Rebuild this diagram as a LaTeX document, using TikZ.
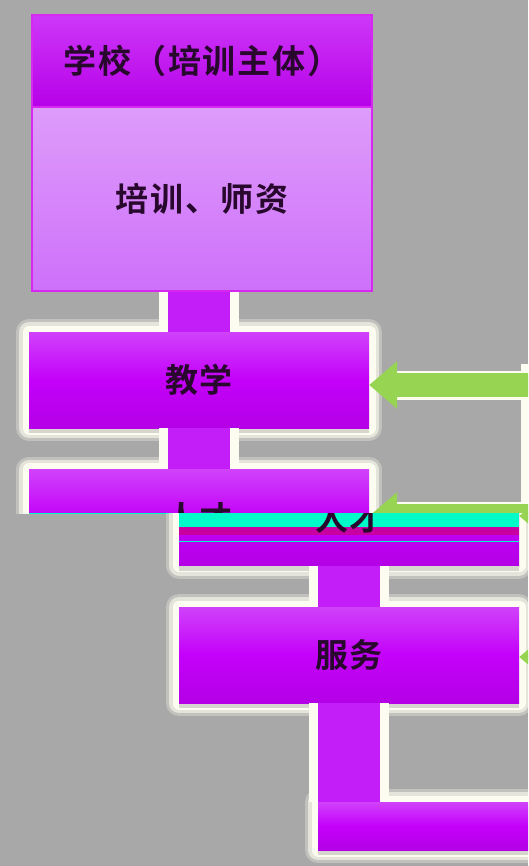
\documentclass[tikz,border=0pt]{standalone}
\usepackage{fontspec}
\usetikzlibrary{arrows.meta,shadows}
\newfontfamily\cjk{Noto Sans CJK SC}[BoldFont={Noto Sans CJK SC Bold}, LetterSpace=6]

\definecolor{bggray}{RGB}{168,168,168}
\definecolor{headtop}{RGB}{206,56,248}
\definecolor{headbot}{RGB}{182,0,232}
\definecolor{pooltop}{RGB}{222,156,250}
\definecolor{poolbot}{RGB}{206,112,250}
\definecolor{rim}{RGB}{214,40,240}
\definecolor{boxtop}{RGB}{208,66,250}
\definecolor{boxmid}{RGB}{196,0,250}
\definecolor{boxbot}{RGB}{180,0,230}
\definecolor{linkcol}{RGB}{196,30,248}
\definecolor{feedgreen}{RGB}{150,212,82}
\definecolor{glitchcyan}{RGB}{0,250,200}
\definecolor{glitchred}{RGB}{200,0,160}
\definecolor{ink}{RGB}{40,8,45}
\definecolor{glow}{RGB}{252,252,240}

\tikzset{
  headbox/.style={rectangle, minimum width=340pt, minimum height=92pt, inner sep=0pt,
    top color=headtop, bottom color=headbot, draw=rim, line width=1.5pt,
    font=\cjk\bfseries\fontsize{33}{33}\selectfont, text=ink},
  poolbox/.style={headbox, minimum height=184pt, top color=pooltop, bottom color=poolbot},
  stagebox/.style={rectangle, minimum width=340pt, minimum height=96pt, inner sep=0pt,
    top color=boxtop, bottom color=boxbot, middle color=boxmid,
    font=\cjk\bfseries\fontsize{33}{33}\selectfont, text=ink,
    preaction={draw=glow, draw opacity=0.3, line width=26pt, line join=round},
    preaction={draw=glow, draw opacity=0.6, line width=20pt, line join=round},
    preaction={draw=glow, line width=13pt, line join=round},
    drop shadow={shadow xshift=0pt, shadow yshift=-5pt, opacity=0.3}},
  link/.style={draw=linkcol, line width=62pt, preaction={draw=glow, line width=80pt}},
  feedbar/.style={draw=feedgreen, line width=24pt, line cap=rect,
    preaction={draw=glow, line width=42pt, line cap=rect}},
  feed/.style={draw=feedgreen, line width=24pt, -{Triangle[width=46pt,length=28pt]},
    preaction={draw=glow, line width=29pt, arrows=-, shorten >=28pt}}
}

\newcommand{\drawflow}[2]{%
  \node[stagebox] (teach) at (199,380) {#1};
  \node[stagebox, path picture={
      \fill[glitchcyan] ([yshift=-43pt]path picture bounding box.north west) rectangle ([yshift=-57pt]path picture bounding box.north east);
      \fill[glitchred] ([yshift=-57pt]path picture bounding box.north west) rectangle ([yshift=-65pt]path picture bounding box.north east);
      \fill[glitchcyan] ([yshift=-71pt]path picture bounding box.north west) rectangle ([yshift=-72.5pt]path picture bounding box.north east);
    }] (talent) at (199,517.5) {人才};
  \node[stagebox] (serve) at (199,655) {#2};
  \node[stagebox, minimum width=240pt, minimum height=48pt] (base) at (288,826) {};

  \draw[link] (teach.north |- pool.south) -- (teach);
  \draw[link] (teach) -- (talent);
  \draw[link] (talent) -- (serve);
  \draw[link] (serve) -- (serve |- base.north);

  \coordinate (fb1) at (542,385);
  \coordinate (fb2) at (542,516);
  \coordinate (fb3) at (542,657);
  \draw[feedbar] (fb1) -- (fb3);
  \draw[feed] (fb1) -- (fb1 -| teach.east);
  \draw[feed] (fb2) -- (fb2 -| talent.east);
  \draw[feed] (fb3) -- (fb3 -| serve.east);
}

\begin{document}
\begin{tikzpicture}[x=1pt,y=-1pt]
  \useasboundingbox (0,0) rectangle (528,866);
  \fill[bggray] (0,0) rectangle (528,866);

  \node[headbox] (school) at (202,61) {学校（培训主体）};
  \node[poolbox] (pool) at (202,199) {培训、师资};

  \begin{scope}
    \clip (0,0) rectangle (528,513);
    \drawflow{教学}{}
  \end{scope}

  \begin{scope}
    \clip (0,513) rectangle (528,866);
    \begin{scope}[xshift=150pt]
      \drawflow{}{服务}
    \end{scope}
  \end{scope}
\end{tikzpicture}
\end{document}
